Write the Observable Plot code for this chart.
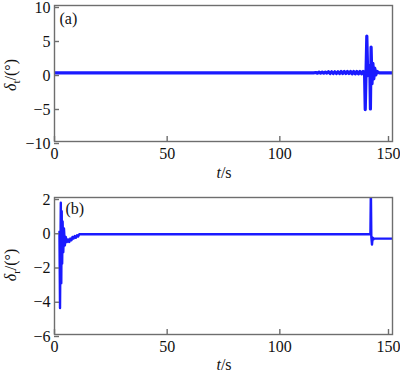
<!DOCTYPE html>
<html>
<head>
<meta charset="utf-8">
<script src="https://cdn.jsdelivr.net/npm/d3@7"></script>
<script src="https://cdn.jsdelivr.net/npm/@observablehq/plot@0.6"></script>
<style>
  html, body { margin: 0; padding: 0; background: #fff; font-family: "Liberation Serif", Tinos, serif; }
  #chart { width: 400px; height: 373px; }
  #chart svg { display: block; }
</style>
</head>
<body>
<div id="chart"></div>
<script>
// ---- data ----
const xTicks = [0, 50, 100];
const xTicksEnd = [150];
const yTicksTop = [-10, -5, 0, 5, 10];
const yTicksBot = [-6, -4, -2, 0, 2];

// panel (a): delta_t over time
const tTop = [0, 40, 80, 115, 116.0, 116.7, 117.4, 118.1, 118.8, 119.5, 120.2, 120.9, 121.6, 122.3, 123.0,
  123.7, 124.4, 125.1, 125.8, 126.5, 127.2, 127.9, 128.6, 129.3, 130.0, 130.7, 131.4, 132.1, 132.8,
  133.5, 134.2, 134.9, 135.6, 136.3, 137.0, 137.6, 137.9, 138.3, 138.6, 139.0, 139.5, 140.0, 140.2,
  140.5, 140.9, 141.3, 141.7, 142.1, 142.6, 143.2, 144.0, 150];
const dTop = [0.1, 0.1, 0.1, 0.1, 0.15, 0.05, 0.2, 0.05, 0.2, 0.05, 0.2, 0.05, 0.25, 0.0, 0.25,
  0.0, 0.25, 0.0, 0.25, 0.0, 0.3, 0.0, 0.3, 0.0, 0.3, 0.0, 0.3, -0.05, 0.3,
  -0.05, 0.3, -0.05, 0.3, -0.05, 0.3, 0.1, -5.3, 0.8, 5.5, -0.3, 1.2, -0.5, -5.2,
  3.9, -1.5, 1.5, -0.8, 0.8, -0.2, 0.3, 0.1, 0.1];

// panel (b): delta_r over time
const tBot = [2.2, 2.45, 2.8, 3.0, 3.2, 3.4, 3.6, 3.9, 4.2, 4.6, 5.0, 5.5, 6.0, 6.5, 7.0, 7.5, 8.0,
  8.5, 9.0, 9.5, 10.0, 10.5, 11.0, 140.2, 140.4, 140.6, 140.9, 141.2, 141.5, 141.8, 150];
const dBot = [0, -4.45, 1.7, -3.0, 1.2, -1.85, 0.6, -1.2, 0.2, -0.8, -0.3, -0.6, -0.45, -0.6, -0.4, -0.5, -0.3,
  -0.4, -0.25, -0.35, -0.2, -0.28, -0.15, -0.15, 2.5, -0.3, -0.75, -0.35, -0.45, -0.4, -0.4];

const topData = tTop.map((t, i) => ({t, v: dTop[i]}));
const botData = tBot.map((t, i) => ({t, v: dBot[i]}));

const BLUE = "#1a1aff";
const FRAME = "#6e6e6e";
const FONT = "Liberation Serif, Tinos, Times New Roman, serif";

function panel({data, yDomain, yTicks, height, marginTop, marginBottom, tag, tagDx, tagDy, sw}) {
  const axisOpts = {tickSize: -5, label: null, stroke: FRAME, strokeWidth: 1.4, fill: "#111", fontVariant: "normal"};
  return Plot.plot({
    width: 400,
    height,
    marginTop,
    marginBottom,
    marginLeft: 54,
    marginRight: 8,
    style: {fontFamily: FONT, fontSize: "16px", color: "#111", background: "#fff", overflow: "visible"},
    x: {domain: [0, 150]},
    y: {domain: yDomain},
    marks: [
      Plot.line(data, {x: "t", y: "v", stroke: BLUE, strokeWidth: sw, clip: true}),
      Plot.frame({stroke: FRAME, strokeWidth: 1.4}),
      Plot.axisX({...axisOpts, ticks: xTicks, tickPadding: 11}),
      Plot.axisX({...axisOpts, ticks: xTicksEnd, tickPadding: 11, dx: -4}),
      Plot.axisY({...axisOpts, ticks: yTicks, tickPadding: 9, dy: 2}),
      Plot.text([tag], {frameAnchor: "top-left", dx: tagDx, dy: tagDy, text: d => d, textAnchor: "start", lineAnchor: "top", fontSize: 16})
    ]
  });
}

const svgTop = panel({data: topData, yDomain: [-10, 10], yTicks: yTicksTop, height: 185, marginTop: 5, marginBottom: 44,
  tag: "(a)", tagDx: 5, tagDy: 7, sw: 3.2});
const svgBot = panel({data: botData, yDomain: [-6, 2], yTicks: yTicksBot, height: 188, marginTop: 12, marginBottom: 39,
  tag: "(b)", tagDx: 11, tagDy: 5, sw: 2.4});

const root = document.getElementById("chart");
root.appendChild(svgTop);
root.appendChild(svgBot);

function addLabels(svg, sub, yCenter, xBaseY) {
  const s = d3.select(svg);
  const yl = s.append("text")
    .attr("transform", `translate(16,${yCenter}) rotate(-90)`)
    .attr("text-anchor", "middle")
    .attr("font-size", 16)
    .attr("fill", "#111");
  yl.append("tspan").attr("font-style", "italic").text("δ");
  yl.append("tspan").attr("font-size", 11).attr("dy", 4).text(sub);
  yl.append("tspan").attr("dy", -4).text("/(°)");
  const xl = s.append("text")
    .attr("x", 224).attr("y", xBaseY)
    .attr("text-anchor", "middle")
    .attr("font-size", 16)
    .attr("fill", "#111");
  xl.append("tspan").attr("font-style", "italic").text("t");
  xl.append("tspan").text("/s");
}
addLabels(svgTop, "t", 75, 178);
addLabels(svgBot, "r", 80, 185);

// force the serif family on every text node (inline, important)
for (const svg of [svgTop, svgBot]) {
  const s = d3.select(svg);
  s.style("font-family", FONT, "important");
  s.selectAll("g, text, tspan").attr("font-family", FONT).style("font-family", FONT, "important");
}
</script>
</body>
</html>
